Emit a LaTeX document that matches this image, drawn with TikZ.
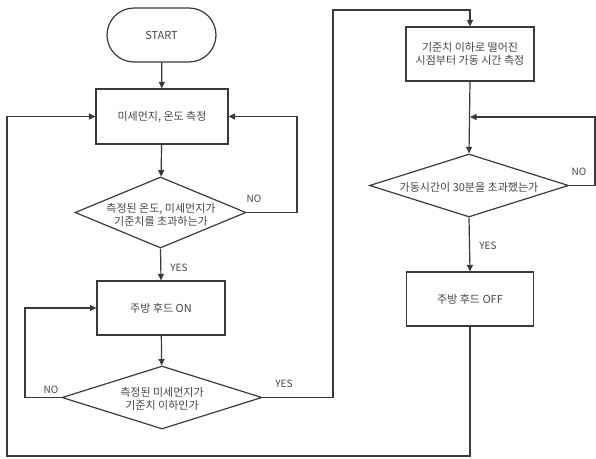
\documentclass[tikz,border=0pt]{standalone}
\usepackage{fontspec}
\setmainfont{Noto Sans CJK KR}
\usetikzlibrary{arrows.meta,shapes.geometric,calc}
\definecolor{ln}{HTML}{3A3A3A}
\definecolor{tx}{HTML}{454545}
\tikzset{
  x=1pt,y=-1pt,
  every node/.style={font=\fontsize{11}{12.5}\selectfont, text=tx},
  boxn/.style={draw=ln, line width=1.2pt, rectangle, inner sep=0pt, align=center},
  dia/.style={draw=ln, line width=1.2pt, diamond, inner sep=0pt},
  dtext/.style={align=center, inner sep=0pt},
  con/.style={draw=ln, line width=1.2pt},
  arr/.style={con, -{Triangle[length=6.5pt,width=6pt]}},
  lbl/.style={font=\fontsize{10}{12}\selectfont, text=tx, inner sep=0pt}
}
\begin{document}
\begin{tikzpicture}
\useasboundingbox (0,0) rectangle (596,458);
\node[boxn, rounded corners=27pt, minimum width=109pt, minimum height=54pt] (start) at (161.5,35) {START};
\node[boxn, minimum width=132pt, minimum height=55pt] (b1) at (162,116.5) {미세먼지, 온도 측정};
\node[dia, minimum width=171pt, minimum height=71pt] (d1) at (160.5,212.5) {};
\node[dtext] (d1t) at (161,215) {측정된 온도, 미세먼지가\\기준치를 초과하는가};
\node[boxn, minimum width=128pt, minimum height=54pt] (b2) at (161,308) {주방 후드 ON};
\node[dia, minimum width=200pt, minimum height=63pt] (d2) at (162,397.5) {};
\node[dtext] (d2t) at (162,399) {측정된 미세먼지가\\기준치 이하인가};
\node[boxn, minimum width=128pt, minimum height=54pt] (b3) at (470,54) {기준치 이하로 떨어진\\시점부터 가동 시간 측정};
\node[dia, minimum width=199pt, minimum height=63pt] (d3) at (469,185.5) {};
\node[dtext] (d3t) at (469,187) {가동시간이 30분을 초과했는가};
\node[boxn, minimum width=127pt, minimum height=54pt] (b4) at (470,299) {주방 후드 OFF};

\coordinate (c1) at (297,212.5);
\coordinate (c2) at (25,397.5);
\coordinate (c3) at (333,397.5);
\coordinate (c4) at (333,10);
\coordinate (c5) at (595,185.5);
\coordinate (c6) at (595,117);
\coordinate (j) at (470,117);
\coordinate (c7) at (470,456);
\coordinate (c8) at (7,456);

\draw[arr] (start) -- (b1);
\draw[arr] (b1) -- (d1);
\draw[arr] (d1.east) -- (c1) |- (b1.east);
\node[lbl] at (254,199) {NO};
\draw[arr] (d1.south) -- (b2.north);
\node[lbl] at (179,268) {YES};
\draw[arr] (b2) -- (d2);
\draw[arr] (d2.west) -- (c2) |- (b2.west);
\node[lbl] at (51,390) {NO};
\draw[arr] (d2.east) -- (c3) -- (c4) -| (b3.north);
\node[lbl] at (284,384) {YES};
\draw[arr] (b3.south) -- (d3.north);
\draw[arr] (d3.east) -- (c5) -- (c6) -- (j);
\node[lbl] at (579,172) {NO};
\draw[arr] (d3.south) -- (b4.north);
\node[lbl] at (488,246) {YES};
\draw[arr] (b4.south) -- (c7) -- (c8) |- (b1.west);
\end{tikzpicture}
\end{document}
